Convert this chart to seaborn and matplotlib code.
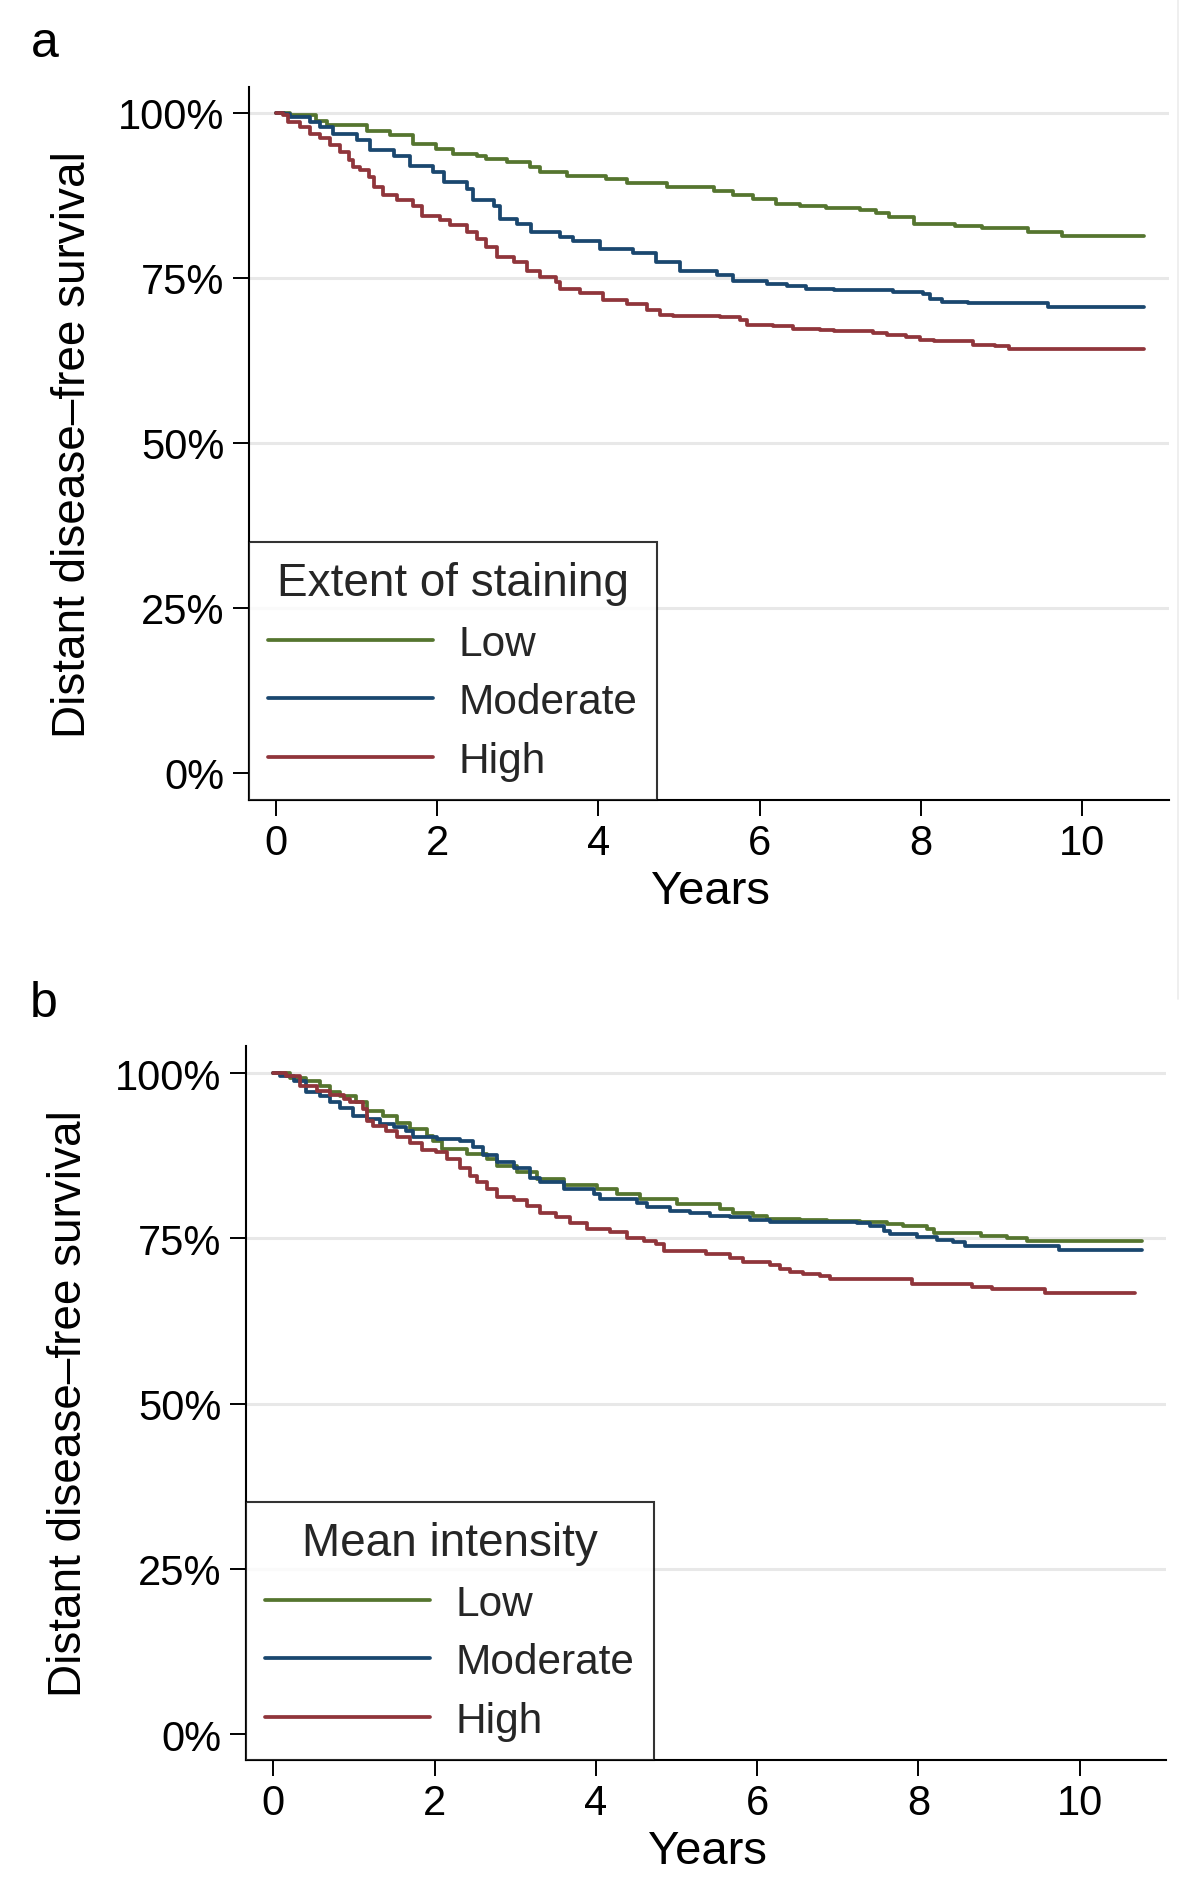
import matplotlib
matplotlib.use("Agg")
import matplotlib.pyplot as plt
from matplotlib.lines import Line2D
import seaborn as sns
import pandas as pd

# ---------------- data ----------------
groups = ["Low", "Moderate", "High"]

# Panel a: Extent of staining
a_low_t = [0, 0.17, 0.5, 0.63, 1.13, 1.41, 1.70, 1.99, 2.20, 2.49, 2.61, 2.86, 3.15, 3.28, 3.61, 4.10, 4.35, 4.85,
           5.43, 5.67, 5.92, 6.21, 6.50, 6.83, 7.25, 7.45, 7.60, 7.91, 8.42, 8.76, 9.33, 9.75, 10.77]
a_low_s = [1.0, 0.996, 0.988, 0.981, 0.973, 0.966, 0.953, 0.945, 0.938, 0.935, 0.930, 0.925, 0.918, 0.910, 0.904,
           0.900, 0.894, 0.888, 0.881, 0.875, 0.869, 0.862, 0.858, 0.855, 0.852, 0.848, 0.842, 0.832, 0.828, 0.825,
           0.820, 0.813, 0.813]
a_mod_t = [0, 0.1, 0.17, 0.42, 0.55, 0.71, 1.00, 1.17, 1.46, 1.66, 1.95, 2.08, 2.37, 2.45, 2.70, 2.78, 2.99, 3.17,
           3.52, 3.69, 4.02, 4.43, 4.72, 5.01, 5.47, 5.67, 6.09, 6.34, 6.58, 6.92, 7.66, 8.03, 8.11, 8.26, 8.59,
           9.58, 10.77]
a_mod_s = [1.0, 0.998, 0.994, 0.986, 0.978, 0.968, 0.958, 0.943, 0.935, 0.920, 0.910, 0.895, 0.885, 0.868, 0.858,
           0.839, 0.832, 0.819, 0.812, 0.805, 0.794, 0.788, 0.774, 0.761, 0.754, 0.745, 0.740, 0.737, 0.733, 0.731,
           0.728, 0.725, 0.718, 0.714, 0.712, 0.706, 0.706]
a_high_t = [0, 0.09, 0.15, 0.30, 0.42, 0.55, 0.67, 0.79, 0.90, 0.95, 1.04, 1.15, 1.21, 1.33, 1.50, 1.70, 1.81, 2.03,
            2.16, 2.37, 2.49, 2.61, 2.74, 2.95, 3.11, 3.28, 3.48, 3.52, 3.77, 4.06, 4.35, 4.60, 4.76, 4.93, 5.51,
            5.76, 5.84, 6.17, 6.42, 6.75, 6.92, 7.41, 7.58, 7.82, 7.99, 8.16, 8.65, 8.92, 9.09, 10.77]
a_high_s = [1.0, 0.997, 0.986, 0.978, 0.968, 0.961, 0.951, 0.940, 0.928, 0.918, 0.913, 0.903, 0.888, 0.875, 0.868,
            0.858, 0.843, 0.838, 0.830, 0.819, 0.809, 0.797, 0.782, 0.774, 0.761, 0.751, 0.744, 0.733, 0.727, 0.716,
            0.711, 0.701, 0.694, 0.692, 0.690, 0.686, 0.679, 0.677, 0.673, 0.671, 0.670, 0.667, 0.664, 0.661, 0.656,
            0.654, 0.648, 0.647, 0.642, 0.642]

# Panel b: Mean intensity
b_low_t = [0, 0.20, 0.41, 0.58, 0.70, 0.83, 1.03, 1.16, 1.36, 1.53, 1.69, 1.90, 1.98, 2.09, 2.40, 2.65, 2.77, 3.02,
           3.27, 3.60, 4.01, 4.26, 4.55, 5.00, 5.54, 5.70, 5.95, 6.12, 6.53, 6.86, 7.28, 7.61, 7.81, 8.10, 8.19,
           8.77, 9.10, 9.35, 10.77]
b_low_s = [1.0, 0.993, 0.988, 0.981, 0.972, 0.966, 0.956, 0.943, 0.935, 0.925, 0.915, 0.905, 0.898, 0.885, 0.877,
           0.870, 0.860, 0.851, 0.840, 0.831, 0.825, 0.817, 0.810, 0.802, 0.794, 0.788, 0.784, 0.780, 0.778, 0.776,
           0.775, 0.772, 0.768, 0.764, 0.758, 0.754, 0.750, 0.746, 0.746]
b_mod_t = [0, 0.08, 0.25, 0.41, 0.58, 0.70, 0.83, 0.99, 1.16, 1.32, 1.49, 1.65, 1.73, 2.03, 2.31, 2.48, 2.60, 2.77,
           2.98, 3.18, 3.31, 3.60, 3.97, 4.05, 4.51, 4.63, 4.92, 5.17, 5.42, 5.66, 5.91, 6.16, 7.24, 7.40, 7.57,
           7.65, 7.98, 8.23, 8.43, 8.58, 9.74, 10.77]
b_mod_s = [1.0, 0.996, 0.988, 0.972, 0.966, 0.956, 0.947, 0.935, 0.930, 0.923, 0.918, 0.913, 0.904, 0.900, 0.898,
           0.888, 0.876, 0.865, 0.856, 0.842, 0.835, 0.825, 0.817, 0.809, 0.804, 0.797, 0.792, 0.789, 0.784, 0.782,
           0.778, 0.775, 0.773, 0.768, 0.761, 0.757, 0.752, 0.748, 0.744, 0.739, 0.733, 0.733]
b_high_t = [0, 0.16, 0.33, 0.54, 0.70, 0.87, 0.95, 1.11, 1.16, 1.24, 1.40, 1.53, 1.69, 1.84, 2.02, 2.15, 2.31, 2.44,
            2.52, 2.65, 2.77, 2.98, 3.14, 3.31, 3.51, 3.68, 3.89, 4.17, 4.38, 4.59, 4.75, 4.84, 5.37, 5.66, 5.83,
            6.16, 6.28, 6.41, 6.57, 6.78, 6.90, 7.92, 8.66, 8.91, 9.57, 10.69]
b_high_s = [1.0, 0.995, 0.981, 0.973, 0.967, 0.961, 0.956, 0.946, 0.928, 0.920, 0.913, 0.904, 0.895, 0.884, 0.880,
            0.870, 0.857, 0.845, 0.835, 0.825, 0.812, 0.808, 0.799, 0.789, 0.782, 0.774, 0.764, 0.759, 0.751, 0.746,
            0.741, 0.731, 0.726, 0.721, 0.714, 0.709, 0.703, 0.699, 0.696, 0.693, 0.688, 0.681, 0.677, 0.673, 0.667,
            0.667]

y_ticks = [0, 0.25, 0.5, 0.75, 1.0]
y_ticklabels = ["0%", "25%", "50%", "75%", "100%"]
x_ticks = [0, 2, 4, 6, 8, 10]
panel_letters = ["a", "b"]
legend_titles = ["Extent of staining", "Mean intensity"]
x_label = "Years"
y_label = "Distant disease\u2013free survival"

colors = {"Low": "#55752f", "Moderate": "#1a476f", "High": "#90353b"}


def make_df(series):
    rows = []
    for g, (ts, ss) in zip(groups, series):
        for t, s in zip(ts, ss):
            rows.append({"t": t, "s": s, "group": g})
    return pd.DataFrame(rows)


df_a = make_df([(a_low_t, a_low_s), (a_mod_t, a_mod_s), (a_high_t, a_high_s)])
df_b = make_df([(b_low_t, b_low_s), (b_mod_t, b_mod_s), (b_high_t, b_high_s)])

# ---------------- style ----------------
sns.set_theme(style="white")
plt.rcParams["font.family"] = ["Liberation Sans", "DejaVu Sans"]

W, H = 1200, 1890
fig = plt.figure(figsize=(12, 18.9), dpi=100)


def px_axes(left, top, right, bottom):
    return fig.add_axes([left / W, 1 - bottom / H, (right - left) / W, (bottom - top) / H])


ax_a = px_axes(249, 88, 1169, 801)
ax_b = px_axes(246, 1047, 1166, 1761)

cfgs = [
    (ax_a, df_a, (-0.335, 11.08), (-0.041, 1.039), legend_titles[0], (31, 57), -0.167),
    (ax_b, df_b, (-0.34, 11.07), (-0.039, 1.041), legend_titles[1], (30, 1017), -0.168),
]

LW = 2.7
for i, (ax, df, xl, yl, ltitle, letter_pos, ylx) in enumerate(cfgs):
    for yv in y_ticks[1:]:
        ax.axhline(yv, color="#e8e8e8", lw=2.2, zorder=0)
    sns.lineplot(data=df, x="t", y="s", hue="group", hue_order=groups, palette=colors,
                 estimator=None, drawstyle="steps-post", lw=LW, legend=False, ax=ax, zorder=3)
    ax.set_xlim(*xl)
    ax.set_ylim(*yl)
    ax.set_yticks(y_ticks)
    ax.set_yticklabels(y_ticklabels)
    ax.set_xticks(x_ticks)
    ax.tick_params(axis="both", which="major", direction="out", length=11.5, width=1.4,
                   color="black", labelsize=30, labelcolor="black", left=True, bottom=True)
    ax.tick_params(axis="y", pad=6)
    ax.tick_params(axis="x", pad=5)
    for side in ["top", "right"]:
        ax.spines[side].set_visible(False)
    for side in ["left", "bottom"]:
        ax.spines[side].set_color("black")
        ax.spines[side].set_linewidth(1.5)
    ax.set_xlabel(x_label, fontsize=34, color="black")
    ax.set_ylabel(y_label, fontsize=33, color="black")
    ax.xaxis.set_label_coords(0.502, -0.097)
    ax.yaxis.set_label_coords(ylx, 0.5)

    handles = [Line2D([0], [0], color=colors[g], lw=LW) for g in groups]
    leg = ax.legend(handles, groups, title=ltitle, loc="lower left", bbox_to_anchor=(0, 0),
                    borderaxespad=0, frameon=True, fancybox=False, fontsize=30.5, title_fontsize=33,
                    handlelength=3.9, handletextpad=0.6, labelspacing=0.44, borderpad=0.45)
    leg.get_frame().set_edgecolor("black")
    leg.get_frame().set_linewidth(1.5)
    leg.set_zorder(5)

    fig.text(letter_pos[0] / W, 1 - letter_pos[1] / H, panel_letters[i], fontsize=36,
             ha="left", va="baseline", color="black")

# faint border line at right of upper panel
fig.add_artist(Line2D([1178 / W, 1178 / W], [1, 1 - 1000 / H], color="#ececec", lw=1.2,
                      transform=fig.transFigure))

fig.savefig("out.png", dpi=100, facecolor="white")
